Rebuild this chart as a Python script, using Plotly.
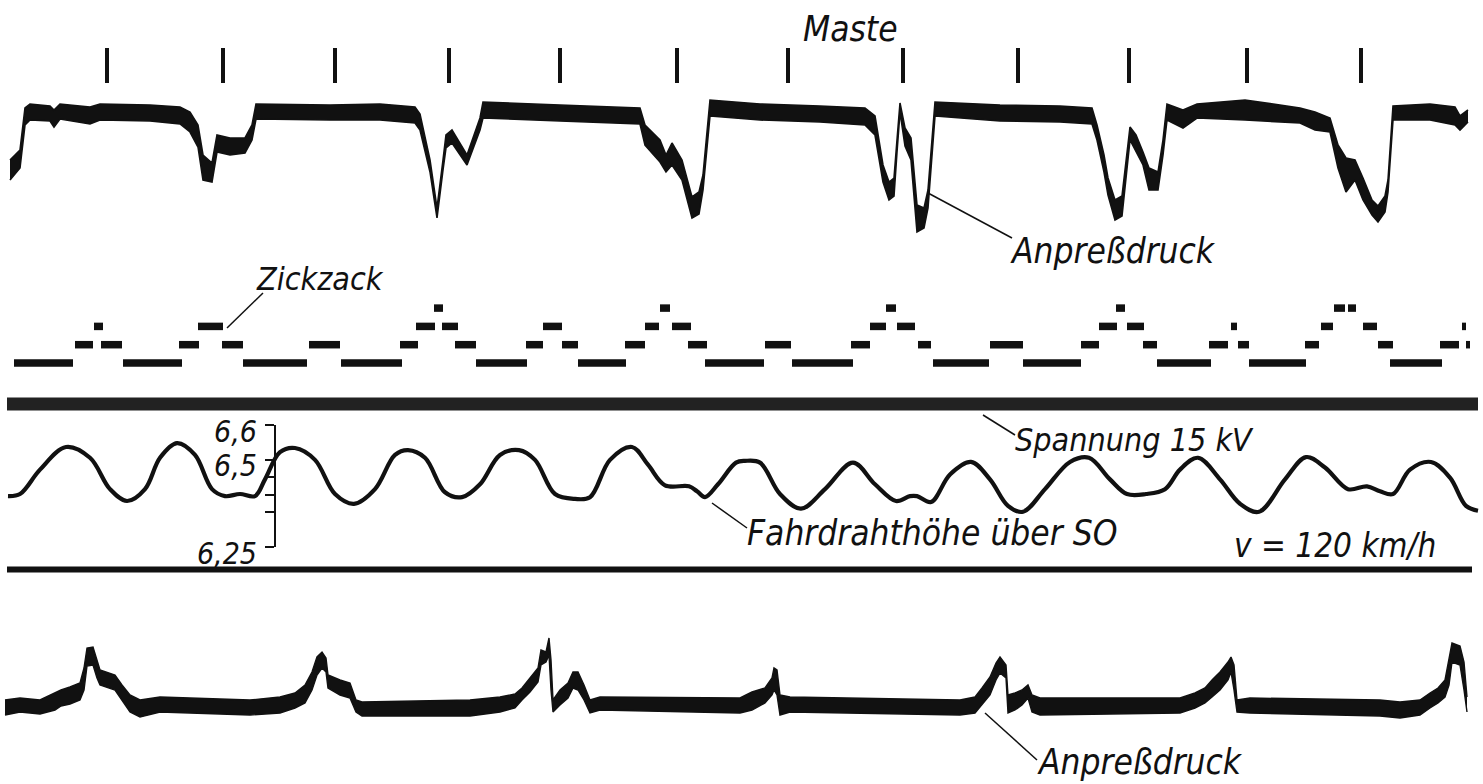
import plotly.graph_objects as go

W, H = 1483, 784

# ---------------- data ----------------
# Weg s in Einheiten des Registrierstreifens
mast_s = [107, 223, 335, 449, 560, 677, 788, 903, 1018, 1129, 1247, 1361]

# Anpreßdruck oben: Ausschlag gegenüber Nullage, obere / untere Hüllkurve des Schriebs
top_s = [10, 20, 25, 30, 50, 54, 60, 90, 100, 150, 180, 190, 198, 203, 212, 217, 230, 245, 252, 256,
         330, 380, 415, 420, 430, 437, 443, 446, 452, 460, 467, 480, 483,
         560, 640, 645, 660, 666, 672, 682, 687, 692, 699, 703, 710,
         760, 820, 865, 875, 883, 889, 894, 897, 900, 905, 911, 917, 924, 928, 935,
         1000, 1060, 1092, 1097, 1104, 1108, 1115, 1122, 1130, 1136, 1143, 1149, 1158, 1163, 1167,
         1183, 1197, 1245, 1300, 1315, 1330, 1338, 1346, 1355, 1363, 1372, 1378, 1385, 1388, 1393,
         1430, 1455, 1460, 1468]
top_hi = [-47, -37, 5, 9, 7, 3, 9, 6, 9, 8, 6, 1, -12, -42, -50, -22, -25, -25, -12, 9,
          8, 9, 6, -1, -47, -95, -47, -22, -17, -30, -42, -5, 11,
          8, 5, -12, -27, -42, -30, -47, -67, -84, -79, -62, 13,
          9, 7, 5, -3, -52, -69, -65, -27, 10, -15, -25, -92, -95, -77, 11,
          8, 7, 5, -12, -42, -65, -87, -83, -14, -22, -39, -55, -59, -27, 9,
          3, 9, 13, 5, 1, -5, -32, -45, -47, -65, -87, -93, -83, -67, 7,
          9, 6, -3, 3]
top_lo = [-67, -55, -12, -7, -8, -14, -6, -11, -7, -8, -11, -19, -34, -67, -69, -39, -42, -40, -27, -6,
          -7, -7, -10, -17, -59, -105, -57, -35, -30, -42, -52, -17, -5,
          -8, -11, -32, -49, -59, -52, -67, -87, -105, -101, -77, -3,
          -7, -9, -12, -22, -69, -87, -83, -39, 1, -33, -47, -119, -115, -95, -3,
          -8, -9, -11, -27, -59, -82, -107, -103, -27, -39, -52, -77, -77, -42, -7,
          -15, -5, -7, -10, -17, -19, -55, -79, -67, -87, -102, -109, -99, -79, -7,
          -7, -12, -17, -9]

# Zickzack: Stufen (0..3) mit Anfang und Ende jedes Striches
zz_start = [14, 123, 243, 341, 476, 578, 705, 792, 933, 1023, 1157, 1249, 1390,
            75, 101, 179, 222, 309, 400, 455, 526, 562, 625, 688, 765, 851, 918, 990, 1081, 1143,
            1209, 1238, 1305, 1378, 1440, 1466,
            94, 198, 416, 442, 543, 645, 672, 870, 897, 1099, 1127, 1231, 1321, 1363, 1462,
            434, 660, 886, 1116, 1334, 1348]
zz_end = [73, 182, 307, 402, 527, 626, 764, 853, 989, 1081, 1211, 1306, 1442,
          93, 122, 199, 243, 340, 418, 476, 543, 578, 645, 707, 791, 870, 931, 1023, 1099, 1157,
          1228, 1249, 1319, 1393, 1459, 1470,
          103, 223, 435, 458, 562, 659, 691, 886, 915, 1117, 1144, 1237, 1333, 1377, 1466,
          443, 670, 896, 1125, 1345, 1356]
zz_level = [0] * 13 + [1] * 23 + [2] * 15 + [3] * 6

# Spannung 15 kV
sp_s = [7, 1478]
sp_kv = [15, 15]

# Fahrdrahthöhe über SO in m
fd_s = [8, 20, 40, 66, 90, 110, 127, 145, 160, 177, 195, 212, 225, 240, 255, 265, 280, 295, 315, 335,
        354, 375, 395, 408, 425, 445, 462, 480, 500, 519, 535, 555, 575, 590, 610, 632, 648, 665, 689,
        697, 705, 718, 736, 745, 760, 780, 801, 825, 853, 875, 896, 910, 917, 931, 950, 971, 990, 1008,
        1023, 1045, 1070, 1089, 1110, 1127, 1146, 1165, 1180, 1198, 1220, 1240, 1259, 1285, 1306, 1325,
        1348, 1367, 1380, 1393, 1410, 1431, 1450, 1466, 1478]
fd_h = [6.396, 6.402, 6.472, 6.537, 6.506, 6.416, 6.382, 6.416, 6.506, 6.548, 6.514, 6.416, 6.396,
        6.402, 6.396, 6.444, 6.522, 6.534, 6.500, 6.402, 6.374, 6.416, 6.514, 6.528, 6.506, 6.407,
        6.393, 6.430, 6.514, 6.528, 6.500, 6.402, 6.388, 6.393, 6.500, 6.537, 6.486, 6.427, 6.424,
        6.410, 6.393, 6.430, 6.492, 6.497, 6.492, 6.402, 6.360, 6.416, 6.492, 6.430, 6.382, 6.396,
        6.396, 6.379, 6.458, 6.494, 6.444, 6.368, 6.351, 6.416, 6.494, 6.506, 6.444, 6.402, 6.402,
        6.416, 6.472, 6.506, 6.444, 6.374, 6.351, 6.444, 6.508, 6.478, 6.416, 6.424, 6.410, 6.402,
        6.472, 6.494, 6.449, 6.368, 6.354]
fd_ticks = [6.25, 6.35, 6.4, 6.45, 6.5, 6.6]
fd_ticktext = ["6,25", "", "", "", "6,5", "6,6"]

# Anpreßdruck unten: obere / untere Hüllkurve
bot_s = [5, 20, 40, 55, 61, 70, 80, 84, 87, 93, 97, 100, 115, 122, 130, 140, 160, 250, 280, 295,
         305, 312, 317, 322, 326, 328, 340, 350, 356, 362, 470, 500, 515, 522, 530, 538, 541, 546,
         549, 551, 553, 560, 568, 573, 578, 584, 590, 600, 740, 752, 765, 772, 774, 777, 780, 790,
         960, 975, 982, 990, 996, 1000, 1006, 1008, 1015, 1022, 1028, 1032, 1040, 1180, 1195, 1205,
         1212, 1220, 1228, 1231, 1234, 1237, 1250, 1380, 1400, 1420, 1430, 1438, 1445, 1449, 1452,
         1460, 1464, 1467]
bot_hi = [7, 9, 7, 14, 17, 20, 24, 39, 59, 60, 47, 37, 32, 22, 12, 7, 10, 7, 10, 14,
          22, 35, 50, 55, 49, 32, 27, 24, 7, 5, 7, 10, 13, 19, 29, 39, 57, 55,
          69, 47, 7, 17, 24, 35, 35, 22, 7, 10, 9, 15, 19, 29, 39, 37, 12, 10,
          7, 10, 19, 30, 44, 50, 42, 12, 14, 17, 22, 12, 9, 9, 14, 19,
          27, 35, 45, 50, 42, 7, 9, 7, 5, 7, 14, 19, 27, 47, 64,
          61, 45, 10]
bot_lo = [-8, -5, -7, -3, 1, 3, 7, 17, 41, 42, 29, 22, 17, 7, -5, -10, -5, -8, -6, -1,
          4, 17, 32, 39, 35, 19, 12, 9, -5, -9, -9, -5, -1, 7, 15, 25, 42, 45,
          52, 17, -5, 2, 9, 19, 17, 7, -6, -3, -6, -3, 4, 12, 17, 12, -8, -5,
          -8, -6, 2, 12, 27, 34, 29, -6, -3, 2, 9, -5, -8, -6, -1, 4,
          10, 17, 27, 35, 17, -5, -6, -9, -11, -8, -1, 4, 10, 22, 45,
          42, 17, -5]

# ---------------- layout helpers ----------------
FONT = "DejaVu Sans Condensed, Liberation Sans Narrow, DejaVu Sans, sans-serif"
BLACK = "#111111"


def rng(value, pixel, px_per_unit):
    """axis range (domain = full height) so that `value` sits at `pixel` from the top"""
    return [value - (H - pixel) / px_per_unit, value + pixel / px_per_unit]


def P(x, y):
    return x / W, 1 - y / H


fig = go.Figure()

# Maste
fig.add_trace(go.Scatter(x=mast_s, y=[0] * len(mast_s), yaxis="y2", mode="markers",
                         marker=dict(symbol="line-ns", size=25, line=dict(width=4, color=BLACK)),
                         hoverinfo="skip", showlegend=False))

# Anpreßdruck oben (Band)
fig.add_trace(go.Scatter(x=top_s, y=top_hi, yaxis="y", mode="lines",
                         line=dict(color=BLACK, width=1.6), showlegend=False, hoverinfo="skip"))
fig.add_trace(go.Scatter(x=top_s, y=top_lo, yaxis="y", mode="lines", fill="tonexty",
                         fillcolor=BLACK, line=dict(color=BLACK, width=1.6),
                         showlegend=False, hoverinfo="skip"))

# Zickzack
zx, zy = [], []
for a, b, lv in zip(zz_start, zz_end, zz_level):
    zx += [a, b, None]
    zy += [lv, lv, None]
fig.add_trace(go.Scatter(x=zx, y=zy, yaxis="y3", mode="lines",
                         line=dict(color=BLACK, width=7.5), showlegend=False, hoverinfo="skip"))

# Spannung
fig.add_trace(go.Scatter(x=sp_s, y=sp_kv, yaxis="y4", mode="lines",
                         line=dict(color="#222222", width=13), showlegend=False, hoverinfo="skip"))

# Fahrdrahthöhe
fig.add_trace(go.Scatter(x=fd_s, y=fd_h, xaxis="x", yaxis="y5", mode="lines", line_shape="spline",
                         line=dict(color=BLACK, width=4.2), showlegend=False, hoverinfo="skip",
                         cliponaxis=False))

# Anpreßdruck unten (Band)
fig.add_trace(go.Scatter(x=bot_s, y=bot_hi, yaxis="y6", mode="lines",
                         line=dict(color=BLACK, width=1.4), showlegend=False, hoverinfo="skip"))
fig.add_trace(go.Scatter(x=bot_s, y=bot_lo, yaxis="y6", mode="lines", fill="tonexty",
                         fillcolor=BLACK, line=dict(color=BLACK, width=1.4),
                         showlegend=False, hoverinfo="skip"))

hidden = dict(visible=False, showgrid=False, zeroline=False, fixedrange=True, automargin=False)

fig.update_layout(
    template="none",
    width=W, height=H, autosize=False,
    margin=dict(l=0, r=0, t=0, b=0, pad=0, autoexpand=False),
    paper_bgcolor="white", plot_bgcolor="white",
    xaxis=dict(range=[0, W], domain=[0, 1], **hidden),
    yaxis=dict(range=rng(0, 113, 1), domain=[0, 1], **hidden),
    yaxis2=dict(range=rng(0, 65.5, 1), overlaying="y", **hidden),
    yaxis3=dict(range=rng(0, 363, 18.3), overlaying="y", **hidden),
    yaxis4=dict(range=rng(15, 404, 1), overlaying="y", **hidden),
    yaxis6=dict(range=rng(0, 707, 1), overlaying="y", **hidden),
    yaxis5=dict(range=[6.25, 6.6], domain=[1 - 547 / H, 1 - 425 / H],
                anchor="free", position=275 / W, side="left", automargin=False,
                showline=True, linewidth=2, linecolor=BLACK,
                ticks="outside", ticklen=9, tickwidth=2, tickcolor=BLACK,
                tickvals=fd_ticks, ticktext=fd_ticktext, ticklabelshift=6, ticklabelstandoff=2,
                tickfont=dict(family=FONT, size=30, color=BLACK, style="italic"),
                showgrid=False, zeroline=False, fixedrange=True),
    showlegend=False,
)

# Trennlinie
x0, y0 = P(7, 569.5)
x1, _ = P(1472, 569.5)
fig.add_shape(type="line", xref="paper", yref="paper", x0=x0, x1=x1, y0=y0, y1=y0,
              line=dict(color=BLACK, width=6))

# Hinweislinien
for (ax_, ay_), (bx_, by_) in [((928, 193), (1012, 238)),
                               ((227, 328), (263, 293)),
                               ((983, 415), (1015, 435)),
                               ((712, 503), (747, 528)),
                               ((985, 713), (1037, 760))]:
    xa, ya = P(ax_, ay_)
    xb, yb = P(bx_, by_)
    fig.add_shape(type="line", xref="paper", yref="paper", x0=xa, y0=ya, x1=xb, y1=yb,
                  line=dict(color=BLACK, width=1.5))

# Beschriftungen
labels = [("Maste", 850, 29, 35),
          ("Anpreßdruck", 1113, 251, 35),
          ("Zickzack", 320, 279, 32),
          ("Spannung 15 kV", 1134, 440, 32),
          ("Fahrdrahthöhe über SO", 932, 533, 35),
          ("v = 120 km/h", 1335, 545, 33),
          ("Anpreßdruck", 1140, 762, 35)]
for txt, x, y, s in labels:
    px, py = P(x, y)
    fig.add_annotation(text=txt, x=px, y=py, xref="paper", yref="paper",
                       xanchor="center", yanchor="middle", showarrow=False,
                       font=dict(family=FONT, size=s, color=BLACK, style="italic"))

fig.write_html("out.html", config={"displayModeBar": False},
               post_script="document.body.style.margin='0px';document.body.style.overflow='hidden';")
